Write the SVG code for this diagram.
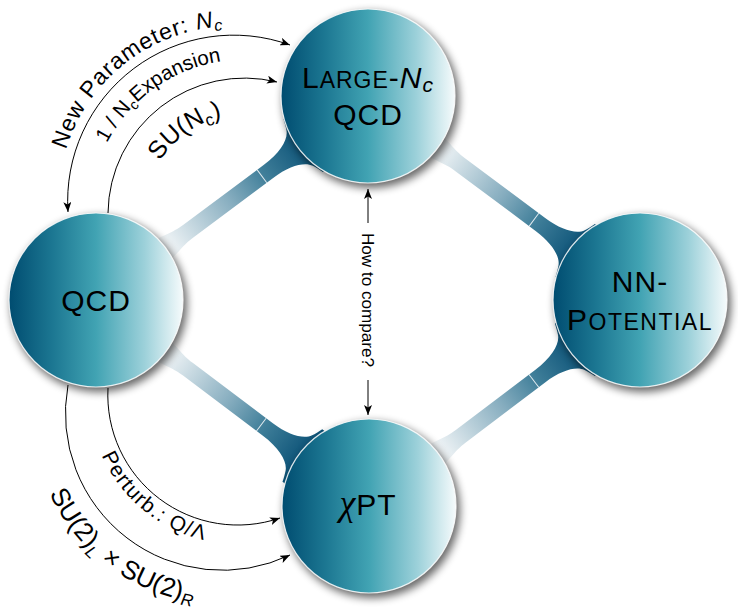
<svg xmlns="http://www.w3.org/2000/svg" xmlns:xlink="http://www.w3.org/1999/xlink" width="738" height="607" viewBox="0 0 738 607">
<style>
text { font-family: "Liberation Sans", Arial, sans-serif; fill: #000; }
.node-label { font-size: 30px; }
.arc { fill: none; stroke: #000; stroke-width: 1; }
</style>
<defs>
  <linearGradient id="ball" x1="0" y1="0" x2="1" y2="0">
    <stop offset="0" stop-color="#004c70"/>
    <stop offset="0.25" stop-color="#1c7792"/>
    <stop offset="0.5" stop-color="#41a3b3"/>
    <stop offset="0.78" stop-color="#9dd1da"/>
    <stop offset="1" stop-color="#f6fbfc"/>
  </linearGradient>
  <linearGradient id="bandGrad" gradientUnits="userSpaceOnUse" x1="90" y1="0" x2="262" y2="0">
    <stop offset="0" stop-color="#f1f5f7"/>
    <stop offset="0.45" stop-color="#86adbf"/>
    <stop offset="0.7" stop-color="#3f7e99"/>
    <stop offset="1" stop-color="#0a5176"/>
  </linearGradient>
  <filter id="blur" x="-30%" y="-30%" width="160%" height="160%">
    <feGaussianBlur stdDeviation="4"/>
  </filter>
  <marker id="arr" viewBox="0 0 10 8" refX="10" refY="4" markerWidth="10" markerHeight="8" markerUnits="userSpaceOnUse" orient="auto-start-reverse">
    <path d="M0,0 L10,4 L0,8 L2.5,4 Z" fill="#000"/>
  </marker>
  <g id="band">
    <path d="M70,-14 C95,-12 100,-8 115,-8 L215,-8 C236,-8 250,-14 254,-22 C255.5,-25 257,-29 258.4,-33 L300,-33 L300,33 L258.4,33 C257,29 255.5,25 254,22 C250,14 236,8 215,8 L115,8 C100,8 95,12 70,14 Z" fill="url(#bandGrad)"/>
    <line x1="207" y1="-8" x2="207" y2="8" stroke="#fff" stroke-width="1" stroke-opacity="0.85"/>
  </g>
  <g id="shadowball">
    <circle cx="3" cy="4" r="88" fill="#000" opacity="0.6" filter="url(#blur)"/>
    <circle cx="0" cy="0" r="87" fill="url(#ball)" stroke="#fff" stroke-width="1.2" stroke-opacity="0.85"/>
  </g>
  <path id="tpNew" d="M60,226 A175,175 0 0 1 298.6,38.8"/>
  <path id="tpExp" d="M90.2,229.6 A155,155 0 0 1 308.5,73.3"/>
  <path id="tpSU" d="M144.9,223.9 A100,100 0 0 1 286.1,123.6"/>
  <path id="tpPert" d="M91,370.4 A149,149 0 0 0 290.2,534.6"/>
  <path id="tpSU2" d="M33.4,390.8 A190,190 0 0 0 296.2,588.9"/>
</defs>

<g id="connectors">
  <use href="#band" transform="translate(96,300) rotate(-36.7)"/>
  <use href="#band" transform="translate(368,96) rotate(36.7)"/>
  <use href="#band" transform="translate(96,300) rotate(37)"/>
  <use href="#band" transform="translate(369,506) rotate(-37.2)"/>

  <path class="arc" d="M68,212 A166,166 0 0 1 290,45" marker-start="url(#arr)" marker-end="url(#arr)"/>
  <path class="arc" d="M108,213 A136.5,136.5 0 0 1 277,82" marker-end="url(#arr)"/>
  <path class="arc" d="M68,385 A157,157 0 0 0 290,555" marker-end="url(#arr)"/>
  <path class="arc" d="M108,388 A130,130 0 0 0 280,518" marker-end="url(#arr)"/>
  <path class="arc" d="M368,223 L368,189" marker-end="url(#arr)"/>
  <path class="arc" d="M368,380 L368,415" marker-end="url(#arr)"/>

  <text font-size="23" letter-spacing="0.9"><textPath href="#tpNew" startOffset="50%" text-anchor="middle">New Parameter: <tspan font-style="italic">N</tspan><tspan font-style="italic" font-size="16" dy="4">c</tspan></textPath></text>
  <text font-size="20.5"><textPath href="#tpExp" startOffset="50%" text-anchor="middle">1 / N<tspan font-size="14" dy="4">c</tspan><tspan dy="-4">Expansion</tspan></textPath></text>
  <text font-size="25"><textPath href="#tpSU" startOffset="50%" text-anchor="middle">SU(N<tspan font-size="17" dy="5">c</tspan><tspan dy="-5">)</tspan></textPath></text>
  <text font-size="21" letter-spacing="1.2"><textPath href="#tpPert" startOffset="50%" text-anchor="middle">Perturb.:  Q/Λ</textPath></text>
  <text font-size="26"><textPath href="#tpSU2" startOffset="50%" text-anchor="middle">SU(2)<tspan font-size="17" font-style="italic" dy="6">L</tspan><tspan dy="-6"> × SU(2)</tspan><tspan font-size="17" font-style="italic" dy="5">R</tspan></textPath></text>
  <text font-size="17" textLength="134" lengthAdjust="spacingAndGlyphs" text-anchor="middle" transform="translate(362,300) rotate(90)">How to compare?</text>
</g>

<g id="qcd">
  <use href="#shadowball" transform="translate(96,300)"/>
  <text class="node-label" x="96" y="311" text-anchor="middle" letter-spacing="1">QCD</text>
</g>

<g id="large-nc">
  <use href="#shadowball" transform="translate(368,96)"/>
  <text x="368" y="88" text-anchor="middle" letter-spacing="1"><tspan font-size="30">L</tspan><tspan font-size="23">ARGE</tspan><tspan font-size="30">-</tspan><tspan font-size="30" font-style="italic">N</tspan><tspan font-size="21" font-style="italic" dy="4">c</tspan></text>
  <text class="node-label" x="368" y="125" text-anchor="middle" letter-spacing="1">QCD</text>
</g>

<g id="nn-potential">
  <use href="#shadowball" transform="translate(640,300)"/>
  <text class="node-label" x="640" y="292" text-anchor="middle" letter-spacing="1">NN-</text>
  <text x="640" y="330" text-anchor="middle" letter-spacing="1.5"><tspan font-size="30">P</tspan><tspan font-size="23">OTENTIAL</tspan></text>
</g>

<g id="chipt">
  <use href="#shadowball" transform="translate(369,506)"/>
  <text x="368" y="515" text-anchor="middle" font-size="30" letter-spacing="1"><tspan font-family="'Liberation Serif', serif" font-style="italic" font-size="36">χ</tspan>PT</text>
</g>
</svg>
